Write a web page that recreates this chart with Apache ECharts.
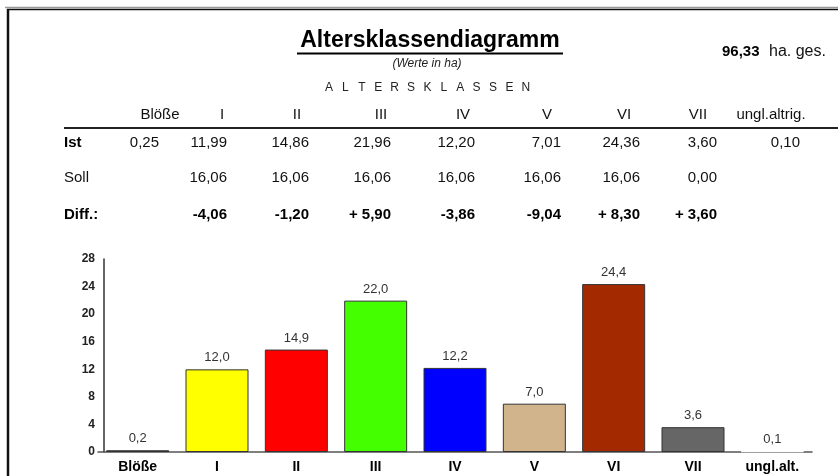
<!DOCTYPE html>
<html>
<head>
<meta charset="utf-8">
<script src="https://cdn.jsdelivr.net/npm/echarts@6/dist/echarts.min.js"></script>
<style>
  html, body { margin: 0; padding: 0; background: #fff; }
  #chart { width: 838px; height: 476px; }
</style>
</head>
<body>
<div id="chart"></div>
<script>
  // Altersklassen (categories)
  var classes = ['Blöße', 'I', 'II', 'III', 'IV', 'V', 'VI', 'VII', 'ungl.alt.']
  var tableHeads = ['Blöße', 'I', 'II', 'III', 'IV', 'V', 'VI', 'VII', 'ungl.altrig.']
  // Ist / Soll / Diff (ha)
  var istValues = [0.25, 11.99, 14.86, 21.96, 12.20, 7.01, 24.36, 3.60, 0.10]
  var sollValues = [null, 16.06, 16.06, 16.06, 16.06, 16.06, 16.06, 0.00, null]
  var diffValues = [null, -4.06, -1.20, 5.90, -3.86, -9.04, 8.30, 3.60, null]
  var barLabels = ['0,2', '12,0', '14,9', '22,0', '12,2', '7,0', '24,4', '3,6', '0,1']
  var barColors = ['#000000', '#ffff00', '#ff0000', '#44ff00', '#0000ff', '#d2b48c', '#a32a00', '#666666', '#ffffff']
  var yTicks = [0, 28, 4] // min, max, interval
  var totalHa = '96,33'

  var FONT = '"Liberation Sans", Arial, sans-serif'

  function fmt(v, sign) {
    var s = Math.abs(v).toFixed(2).replace('.', ',')
    if (v < 0) return '-' + s
    return sign ? '+ ' + s : s
  }

  // table layout (pixel positions of the columns)
  var colRight = [159, 227, 309, 391, 475, 561, 640, 717, 800]
  var headCenter = [160, 222, 297, 381, 463, 547, 624, 698, 771]
  var rowY = { head: 115, ist: 143, soll: 178, diff: 215 }

  var graphic = []
  function txt(text, x, y, opt) {
    opt = opt || {}
    graphic.push({
      type: 'text', x: x, y: y, silent: true,
      style: {
        text: text,
        fill: opt.color || '#111',
        font: (opt.italic ? 'italic ' : '') + (opt.bold ? 'bold ' : '') + (opt.size || 15) + 'px ' + FONT,
        textAlign: opt.align || 'left',
        textVerticalAlign: 'middle'
      }
    })
  }
  function line(x1, y1, x2, y2, w, c) {
    graphic.push({
      type: 'line', silent: true,
      shape: { x1: x1, y1: y1, x2: x2, y2: y2 },
      style: { stroke: c, lineWidth: w }
    })
  }

  // frame
  line(5, 7.5, 838, 7.5, 1.5, '#999')
  line(7, 9.5, 838, 9.5, 1.5, '#111')
  line(8, 9, 8, 476, 2.5, '#111')

  // headline
  txt('Altersklassendiagramm', 430, 41, { bold: true, size: 23, align: 'center', color: '#000' })
  line(297, 53.5, 563, 53.5, 2, '#000')
  txt('(Werte in ha)', 427, 64, { italic: true, size: 12, align: 'center', color: '#222' })
  txt(totalHa, 722, 52, { bold: true, size: 15, color: '#000' })
  txt('ha. ges.', 769, 52, { size: 16, color: '#111' })
  var spaced = 'ALTERSKLASSEN'
  for (var k = 0; k < spaced.length; k++) {
    txt(spaced[k], 329 + k * 16.4, 88, { size: 12, align: 'center', color: '#222' })
  }

  // table
  tableHeads.forEach(function(h, i) {
    txt(h, headCenter[i], rowY.head, { align: 'center', color: '#111' })
  })
  line(64, 128, 838, 128, 2.2, '#222')
  txt('Ist', 64, rowY.ist, { bold: true, color: '#000' })
  txt('Soll', 64, rowY.soll, { color: '#111' })
  txt('Diff.:', 64, rowY.diff, { bold: true, color: '#000' })
  istValues.forEach(function(v, i) {
    txt(fmt(v), colRight[i], rowY.ist, { align: 'right' })
  })
  sollValues.forEach(function(v, i) {
    if (v !== null) txt(fmt(v), colRight[i], rowY.soll, { align: 'right' })
  })
  diffValues.forEach(function(v, i) {
    if (v !== null) txt(fmt(v, true), colRight[i], rowY.diff, { align: 'right', bold: true, color: '#000' })
  })

  var chart = echarts.init(document.getElementById('chart'), null, { renderer: 'canvas' })
  var option = {
    backgroundColor: '#fff',
    animation: false,
    graphic: graphic,
    grid: {
      left: 98,
      right: 26,
      top: 259,
      bottom: 24,
      outerBoundsMode: 'none'
    },
    xAxis: {
      type: 'category',
      data: classes,
      axisTick: { show: false },
      axisLine: { lineStyle: { color: '#555', width: 1.5 } },
      axisLabel: {
        margin: 8,
        fontFamily: FONT,
        fontSize: 14,
        fontWeight: 'bold',
        color: '#000'
      }
    },
    yAxis: {
      type: 'value',
      min: yTicks[0],
      max: yTicks[1],
      interval: yTicks[2],
      offset: -6,
      splitLine: { show: false },
      axisTick: { show: false },
      axisLine: { show: true, lineStyle: { color: '#333', width: 1.5 } },
      axisLabel: {
        margin: 9,
        fontFamily: FONT,
        fontSize: 12,
        fontWeight: 'bold',
        color: '#222'
      }
    },
    series: [{
      type: 'bar',
      barWidth: 63,
      data: istValues.map(function(v, i) {
        return {
          value: v,
          itemStyle: {
            color: barColors[i],
            borderColor: i === 8 ? '#ffffff' : '#333',
            borderWidth: 1
          }
        }
      }),
      label: {
        show: true,
        position: 'top',
        distance: 5,
        fontFamily: FONT,
        fontSize: 13,
        color: '#333',
        formatter: function(p) {
          return barLabels[p.dataIndex]
        }
      }
    }]
  }
  chart.setOption(option)
</script>
</body>
</html>
